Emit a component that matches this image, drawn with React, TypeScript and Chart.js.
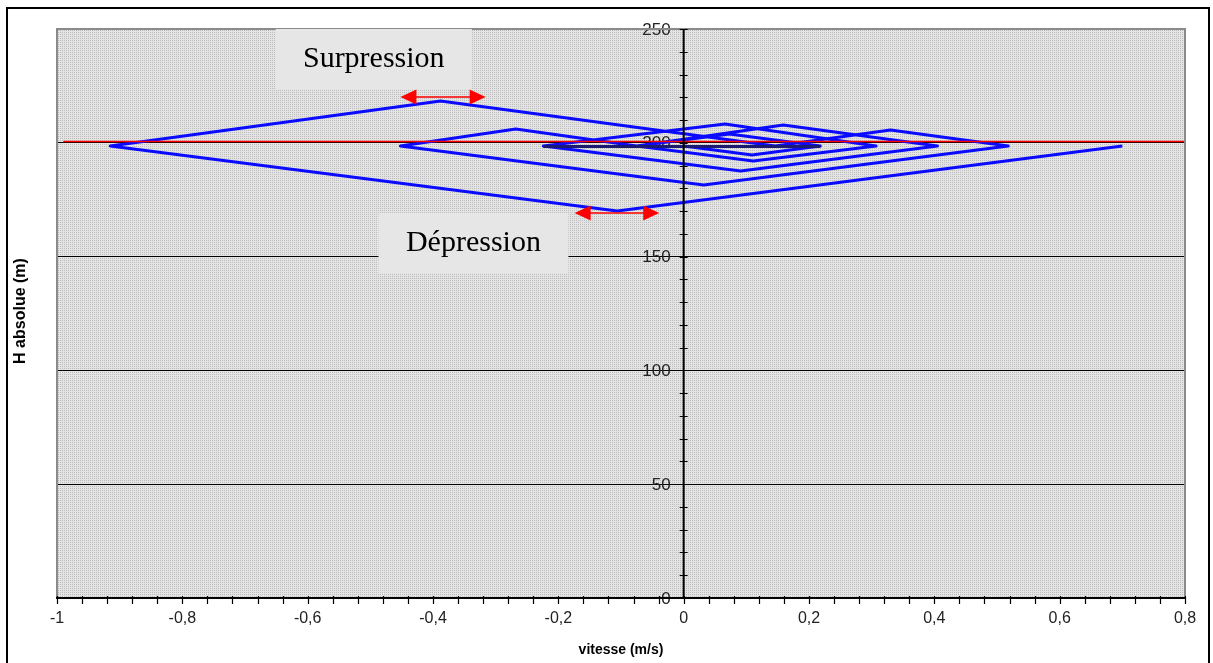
import React, { useEffect, useRef } from 'react';
import { Chart, registerables } from 'chart.js';

Chart.register(...registerables);

// ---------- data ----------
const xTickValues = [-1, -0.8, -0.6, -0.4, -0.2, 0, 0.2, 0.4, 0.6, 0.8];
const yTickValues = [0, 50, 100, 150, 200, 250];
const xMinorStep = 0.04;
const yMinorStep = 10;

// reservoir level (red)
const referenceV = [-0.99, 0.8];
const referenceH = [200.6, 200.6];

// trajectory (vitesse, H)
const trajV = [0.700, -0.106, -0.915, -0.388, 0.146, 0.330, 0.518, 0.032, -0.452, -0.268,
  -0.075, 0.159, 0.405, 0.091, -0.224, 0.066, 0.307, 0.111, -0.075, 0.073, 0.218, 0.109, 0.000];
const trajH = [198.6, 170.0, 198.6, 218.4, 198.6, 205.6, 198.6, 181.5, 198.6, 206.1,
  198.6, 207.8, 198.6, 187.6, 198.6, 208.3, 198.6, 192.0, 198.6, 203.9, 198.6, 194.6, 198.6];

// dark horizontal band
const bandV = [-0.224, 0.218];
const bandH = [198.4, 198.4];

const annotations = [
  { text: 'Surpression', v0: -0.651, v1: -0.338, h0: 250, h1: 223.6, arrowV0: -0.452, arrowV1: -0.316, arrowH: 220.1 },
  { text: 'Dépression', v0: -0.487, v1: -0.184, h0: 169.2, h1: 142.8, arrowV0: -0.174, arrowV1: -0.039, arrowH: 169.2 },
];

const fmt = (v: number) => String(Math.round(v * 10) / 10).replace('.', ',');

export default function App() {
  const ref = useRef<HTMLCanvasElement | null>(null);

  useEffect(() => {
    const canvas = ref.current;
    if (!canvas) return;

    const tile = document.createElement('canvas');
    tile.width = 2; tile.height = 2;
    const tctx = tile.getContext('2d')!;
    tctx.fillStyle = '#e4e4e4'; tctx.fillRect(0, 0, 2, 2);
    tctx.fillStyle = '#bcbcbc'; tctx.fillRect(0, 0, 1, 1);
    const pattern = canvas.getContext('2d')!.createPattern(tile, 'repeat');

    const decor = {
      id: 'decor',
      beforeDraw(chart: any) {
        const { ctx, chartArea: a } = chart;
        ctx.save();
        ctx.fillStyle = '#fff';
        ctx.fillRect(0, 0, chart.width, chart.height);
        ctx.strokeStyle = '#000';
        ctx.lineWidth = 2;
        ctx.beginPath();
        ctx.moveTo(7, 663); ctx.lineTo(7, 8); ctx.lineTo(1209, 8); ctx.lineTo(1209, 663);
        ctx.stroke();
        ctx.fillStyle = pattern;
        ctx.fillRect(a.left, a.top, a.right - a.left, a.bottom - a.top);
        ctx.restore();
      },
      beforeDatasetsDraw(chart: any) {
        const { ctx, scales } = chart;
        const xs = scales.x, ys = scales.y;
        const x0 = xs.getPixelForValue(0);
        ctx.save();
        ctx.fillStyle = '#222';
        ctx.font = '17px "Liberation Sans", Arial, sans-serif';
        ctx.textAlign = 'right';
        ctx.textBaseline = 'middle';
        for (const v of yTickValues) {
          ctx.fillText(fmt(v), x0 - 13, ys.getPixelForValue(v) + 1);
        }
        ctx.restore();
      },
      afterDatasetsDraw(chart: any) {
        const { ctx, chartArea: a, scales } = chart;
        const xs = scales.x, ys = scales.y;
        ctx.save();
        // plot border (gray)
        ctx.strokeStyle = '#8a8a8a';
        ctx.lineWidth = 2;
        ctx.beginPath();
        ctx.moveTo(a.left, a.bottom); ctx.lineTo(a.left, a.top); ctx.lineTo(a.right, a.top); ctx.lineTo(a.right, a.bottom);
        ctx.stroke();
        // axes
        ctx.strokeStyle = '#000';
        ctx.lineWidth = 2;
        const x0 = xs.getPixelForValue(0);
        ctx.beginPath();
        ctx.moveTo(x0, a.top); ctx.lineTo(x0, a.bottom);
        ctx.moveTo(a.left - 1, a.bottom); ctx.lineTo(a.right + 1, a.bottom);
        ctx.stroke();
        // minor ticks
        ctx.lineWidth = 1.2;
        ctx.beginPath();
        const nx = Math.round((xs.max - xs.min) / xMinorStep);
        for (let i = 0; i <= nx; i++) {
          const px = Math.round(xs.getPixelForValue(xs.min + i * xMinorStep)) + 0.5;
          ctx.moveTo(px, a.bottom - 2); ctx.lineTo(px, a.bottom + 6);
        }
        const ny = Math.round((ys.max - ys.min) / yMinorStep);
        for (let i = 1; i <= ny; i++) {
          const py = Math.round(ys.getPixelForValue(ys.min + i * yMinorStep)) + 0.5;
          ctx.moveTo(x0 - 4, py); ctx.lineTo(x0 + 4, py);
        }
        ctx.stroke();
        // annotations
        for (const an of annotations) {
          const bx0 = xs.getPixelForValue(an.v0), bx1 = xs.getPixelForValue(an.v1);
          const by0 = ys.getPixelForValue(an.h0), by1 = ys.getPixelForValue(an.h1);
          ctx.fillStyle = '#e6e6e6';
          ctx.fillRect(bx0, by0, bx1 - bx0, by1 - by0);
          ctx.fillStyle = '#000';
          ctx.font = '30px "Liberation Serif", "Times New Roman", serif';
          ctx.textAlign = 'center';
          ctx.textBaseline = 'middle';
          ctx.fillText(an.text, (bx0 + bx1) / 2, (by0 + by1) / 2);
          const ax0 = xs.getPixelForValue(an.arrowV0), ax1 = xs.getPixelForValue(an.arrowV1);
          const ay = ys.getPixelForValue(an.arrowH);
          ctx.strokeStyle = '#ff0000';
          ctx.fillStyle = '#ff0000';
          ctx.lineWidth = 1.5;
          ctx.beginPath();
          ctx.moveTo(ax0 + 10, ay); ctx.lineTo(ax1 - 10, ay);
          ctx.stroke();
          ctx.beginPath();
          ctx.moveTo(ax0, ay); ctx.lineTo(ax0 + 16, ay - 7.5); ctx.lineTo(ax0 + 16, ay + 7.5); ctx.closePath();
          ctx.moveTo(ax1, ay); ctx.lineTo(ax1 - 16, ay - 7.5); ctx.lineTo(ax1 - 16, ay + 7.5); ctx.closePath();
          ctx.fill();
        }
        // axis titles
        ctx.fillStyle = '#000';
        ctx.font = 'bold 14px "Liberation Sans", Arial, sans-serif';
        ctx.textAlign = 'center';
        ctx.textBaseline = 'middle';
        ctx.fillText('vitesse (m/s)', 621, 650);
        ctx.translate(21, 311);
        ctx.rotate(-Math.PI / 2);
        ctx.font = 'bold 16px "Liberation Sans", Arial, sans-serif';
        ctx.fillText('H absolue (m)', 0, 0);
        ctx.restore();
      },
    };

    const trajData = trajV.map((v, i) => ({ x: v, y: trajH[i] }));
    const refData = referenceV.map((v, i) => ({ x: v, y: referenceH[i] }));
    const bandData = bandV.map((v, i) => ({ x: v, y: bandH[i] }));

    const chart = new Chart(canvas, {
      type: 'line',
      data: {
        datasets: [
          { data: trajData as any, borderColor: '#0a0aff', borderWidth: 3, pointRadius: 0, borderJoinStyle: 'round', order: 3 },
          { data: bandData as any, borderColor: '#1a1a70', borderWidth: 3, pointRadius: 0, order: 2 },
          { data: refData as any, borderColor: '#ff0000', borderWidth: 1.6, pointRadius: 0, order: 1 },
        ],
      },
      options: {
        animation: false,
        responsive: false,
        devicePixelRatio: 1,
        events: [],
        layout: { padding: { left: 57, right: 28, top: 29, bottom: 0 } },
        plugins: { legend: { display: false }, tooltip: { enabled: false } },
        scales: {
          x: {
            type: 'linear',
            min: -1, max: 0.8,
            afterBuildTicks: (s: any) => { s.ticks = xTickValues.map((v) => ({ value: v })); },
            afterFit: (s: any) => { s.height = 65; },
            grid: { display: false, drawTicks: false },
            border: { display: false },
            ticks: {
              padding: 11,
              color: '#222',
              font: { family: '"Liberation Sans", Arial, sans-serif', size: 16 },
              callback: (v: any) => fmt(Number(v)),
              maxRotation: 0, autoSkip: false,
            },
          },
          y: {
            type: 'linear',
            min: 0, max: 250,
            position: { x: 0 } as any,
            afterBuildTicks: (s: any) => { s.ticks = yTickValues.map((v) => ({ value: v })); },
            grid: {
              drawTicks: false,
              color: (c: any) => (c.tick && (c.tick.value === 0 || c.tick.value === 250) ? 'rgba(0,0,0,0)' : '#000'),
              lineWidth: 1,
            },
            border: { display: false },
            ticks: { display: false },
          },
        },
      },
      plugins: [decor],
    });
    return () => chart.destroy();
  }, []);

  return (
    <div style={{ position: 'absolute', left: 0, top: 0, width: 1213, height: 663 }}>
      <canvas ref={ref} width={1213} height={663} style={{ display: 'block' }} />
    </div>
  );
}
